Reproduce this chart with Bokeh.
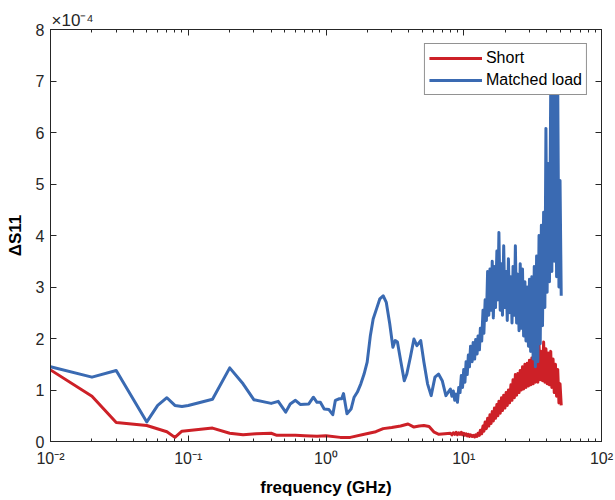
from bokeh.plotting import figure
from bokeh.models import (LogAxis, LinearAxis, FixedTicker, CustomJSTickFormatter,
                          Legend, LegendItem, Range1d)
from bokeh.embed import file_html
from bokeh.resources import INLINE

# ---------------- data (ΔS11 in units of 1e-4) ----------------
# Matched load, low-frequency part (GHz)
blue_low_f = [0.01, 0.02, 0.03, 0.05, 0.06, 0.07, 0.08, 0.09, 0.10, 0.15,
              0.20, 0.25, 0.30, 0.40, 0.45, 0.51, 0.55, 0.60, 0.65, 0.75,
              0.81, 0.86, 0.91, 0.97, 1.05, 1.12, 1.17, 1.25, 1.30, 1.34,
              1.42, 1.52, 1.60, 1.69, 1.79, 1.89, 1.99, 2.10, 2.20, 2.33,
              2.46, 2.60, 2.74, 2.90, 3.06, 3.18, 3.30, 3.50, 3.70, 3.86,
              4.10, 4.35, 4.57, 4.87, 5.14, 5.46, 5.80, 6.18, 6.56, 6.98,
              7.42]
blue_low_v = [1.45, 1.25, 1.38, 0.38, 0.70, 0.85, 0.70, 0.68, 0.70, 0.82,
              1.43, 1.12, 0.81, 0.74, 0.78, 0.57, 0.73, 0.80, 0.72, 0.73,
              0.86, 0.76, 0.76, 0.63, 0.62, 0.52, 0.80, 0.83, 0.83, 0.93,
              0.54, 0.63, 0.86, 0.96, 1.12, 1.31, 1.54, 2.06, 2.38, 2.58,
              2.77, 2.83, 2.70, 2.29, 1.83, 1.96, 1.93, 1.54, 1.18, 1.31,
              1.64, 1.99, 1.86, 1.96, 1.54, 1.12, 0.89, 1.25, 1.31, 1.18,
              0.89]

# Short, low-frequency part (GHz)
red_low_f = [0.01, 0.02, 0.03, 0.05, 0.07, 0.08, 0.09, 0.15, 0.20, 0.25,
             0.31, 0.40, 0.44, 0.60, 0.70, 0.86, 1.00, 1.27, 1.50, 1.97,
             2.30, 2.60, 3.00, 3.48, 3.94, 4.35, 4.75, 5.14, 5.60, 6.10,
             6.60, 7.30]
red_low_v = [1.39, 0.88, 0.37, 0.31, 0.19, 0.08, 0.20, 0.26, 0.16, 0.13,
             0.15, 0.16, 0.12, 0.12, 0.11, 0.10, 0.11, 0.08, 0.08, 0.15,
             0.19, 0.25, 0.27, 0.30, 0.34, 0.28, 0.30, 0.31, 0.29, 0.18,
             0.14, 0.15]

# Noisy high-frequency part, shared frequency samples (GHz)
hf_f = [8.0, 8.2, 8.4, 8.6, 8.8, 9.0, 9.2, 9.4, 9.6, 9.8,
        10.0, 10.2, 10.4, 10.6, 10.8, 11.0, 11.2, 11.5, 11.7, 12.0,
        12.2, 12.5, 12.7, 13.0, 13.2, 13.5, 13.8, 14.0, 14.3, 14.6,
        14.9, 15.2, 15.5, 15.8, 16.1, 16.4, 16.7, 17.0, 17.4, 17.7,
        18.0, 18.4, 18.8, 19.1, 19.5, 19.9, 20.3, 20.7, 21.1, 21.5,
        22.0, 22.4, 22.8, 23.3, 23.7, 24.2, 24.7, 25.2, 25.7, 26.2,
        26.7, 27.2, 27.8, 28.3, 28.9, 29.5, 30.0, 30.6, 31.2, 31.9,
        32.5, 33.1, 33.8, 34.5, 35.2, 35.9, 36.6, 37.3, 38.0, 38.8,
        39.5, 40.3, 41.1, 41.9, 42.8, 43.6, 44.5, 45.4, 46.3, 47.2,
        48.1, 49.1, 50.0, 51.0]
blue_hf_v = [1.02, 0.88, 0.98, 0.80, 0.92, 0.76, 1.05, 0.95, 1.28, 1.05,
             1.40, 1.15, 1.55, 1.30, 1.68, 1.45, 1.85, 1.55, 1.92, 1.60,
             1.98, 1.70, 2.05, 1.78, 2.20, 1.95, 2.55, 2.10, 2.75, 2.35,
             3.30, 2.45, 3.35, 2.55, 3.50, 2.40, 3.40, 2.60, 3.70, 2.75,
             4.06, 2.55, 3.45, 2.45, 3.80, 2.60, 3.30, 2.35, 3.55, 2.50,
             3.20, 2.30, 3.40, 2.45, 3.80, 2.30, 3.25, 2.15, 3.45, 2.20,
             3.35, 2.05, 3.10, 1.95, 3.00, 1.85, 3.15, 1.75, 3.20, 1.60,
             3.40, 1.45, 3.60, 1.55, 4.00, 1.90, 4.20, 2.25, 4.45, 2.60,
             6.08, 2.90, 5.40, 3.10, 6.90, 3.30, 7.30, 3.50, 7.20, 3.20,
             6.95, 3.00, 5.07, 2.83]
red_hf_v = [0.16, 0.13, 0.17, 0.14, 0.18, 0.13, 0.17, 0.14, 0.18, 0.13,
            0.16, 0.12, 0.15, 0.11, 0.14, 0.10, 0.13, 0.10, 0.12, 0.09,
            0.13, 0.10, 0.16, 0.12, 0.22, 0.15, 0.30, 0.20, 0.38, 0.25,
            0.45, 0.30, 0.52, 0.35, 0.58, 0.40, 0.65, 0.45, 0.72, 0.50,
            0.78, 0.55, 0.85, 0.60, 0.90, 0.65, 0.95, 0.70, 1.00, 0.75,
            1.10, 0.80, 1.20, 0.85, 1.30, 0.90, 1.32, 0.95, 1.38, 1.00,
            1.45, 1.02, 1.50, 1.05, 1.52, 1.08, 1.58, 1.10, 1.62, 1.12,
            1.70, 1.15, 1.80, 1.15, 1.88, 1.20, 1.75, 1.18, 1.93, 1.15,
            1.80, 1.12, 1.72, 1.10, 1.75, 1.05, 1.60, 0.95, 1.50, 0.88,
            1.40, 0.75, 1.12, 0.70]

x_major_ticks = [0.01, 0.1, 1, 10, 100]
y_ticks = [0, 1, 2, 3, 4, 5, 6, 7, 8]
series_labels = ["Short", "Matched load"]
exponent_text = "×10⁻⁴"

# ---------------- figure ----------------
FONT = "Liberation Sans"
AX = "#262626"
RED = "#CD2027"
BLUE = "#3A6AB2"

p = figure(width=615, height=500, x_axis_type="log",
           x_range=Range1d(0.01, 100), y_range=Range1d(0, 8),
           output_backend="svg", toolbar_location=None,
           min_border_left=50, min_border_right=14,
           min_border_top=29, min_border_bottom=59,
           x_axis_label="frequency (GHz)", y_axis_label="ΔS11")
p.grid.visible = False
p.outline_line_color = AX
p.background_fill_color = "white"
p.border_fill_color = "white"

p.title.text = exponent_text
p.title.align = "left"
p.title.text_font = FONT
p.title.text_font_size = "17px"
p.title.text_font_style = "normal"
p.title.text_color = AX
p.title.offset = 1
p.title.standoff = 0

r_red = p.line(red_low_f + hf_f, red_low_v + red_hf_v,
               line_color=RED, line_width=3, line_join="round")
r_blue = p.line(blue_low_f + hf_f, blue_low_v + blue_hf_v,
                line_color=BLUE, line_width=3, line_join="round")

minor = [m * 10.0 ** e for e in range(-2, 2) for m in range(2, 10)]
sup_js = """
const e = Math.round(Math.log10(tick));
const m = {"-":"\u207b","0":"\u2070","1":"\u00b9","2":"\u00b2","3":"\u00b3",
           "4":"\u2074","5":"\u2075","6":"\u2076","7":"\u2077","8":"\u2078","9":"\u2079"};
return "10" + String(e).split("").map(c => m[c]).join("");
"""


def style_axis(ax):
    ax.axis_line_color = AX
    ax.major_tick_line_color = AX
    ax.minor_tick_line_color = AX
    ax.major_tick_in = 6
    ax.major_tick_out = 0
    ax.minor_tick_in = 3
    ax.minor_tick_out = 0
    ax.major_label_text_font = FONT
    ax.major_label_text_font_size = "16px"
    ax.major_label_text_color = AX
    ax.axis_label_text_font = FONT
    ax.axis_label_text_font_style = "bold"
    ax.axis_label_text_font_size = "17px"
    ax.axis_label_text_color = "black"


xt = FixedTicker(ticks=x_major_ticks, minor_ticks=minor)
yt = FixedTicker(ticks=y_ticks, minor_ticks=[])

xa = p.xaxis[0]
xa.ticker = xt
xa.formatter = CustomJSTickFormatter(code=sup_js)
xa.major_label_standoff = 8
xa.axis_label_standoff = 8
style_axis(xa)

ya = p.yaxis[0]
ya.ticker = yt
ya.major_label_standoff = 6
ya.axis_label_standoff = 8
style_axis(ya)

top = LogAxis(ticker=FixedTicker(ticks=x_major_ticks, minor_ticks=minor),
              formatter=CustomJSTickFormatter(code="return '';"),
              major_label_standoff=0)
style_axis(top)
p.add_layout(top, "above")

right = LinearAxis(ticker=FixedTicker(ticks=y_ticks, minor_ticks=[]),
                   formatter=CustomJSTickFormatter(code="return '';"))
style_axis(right)
p.add_layout(right, "right")

legend = Legend(items=[LegendItem(label=series_labels[0], renderers=[r_red]),
                       LegendItem(label=series_labels[1], renderers=[r_blue])],
                location="top_right", margin=14, padding=4, spacing=2,
                glyph_width=53, glyph_height=20, label_height=20,
                label_standoff=4,
                label_text_font=FONT, label_text_font_size="16px",
                label_text_color="black",
                border_line_color=AX, border_line_width=1,
                background_fill_color="white", background_fill_alpha=1.0)
p.add_layout(legend)

open("out.html", "w").write(file_html(p, INLINE))
